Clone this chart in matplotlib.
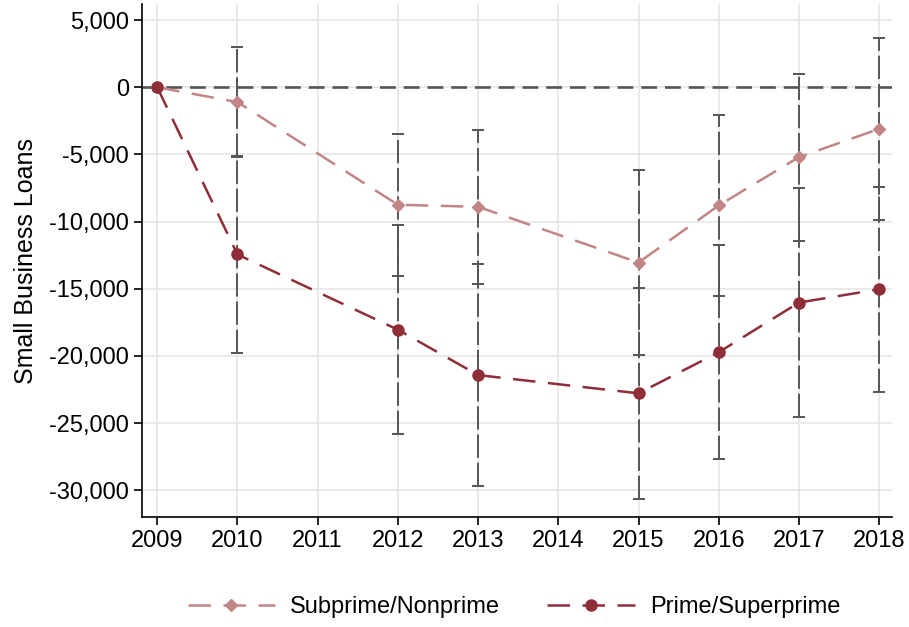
import matplotlib
matplotlib.use("Agg")
import matplotlib.pyplot as plt
from matplotlib.ticker import FuncFormatter

plt.rcParams['font.family'] = ['Liberation Sans', 'DejaVu Sans']

# data
years = [2009, 2010, 2012, 2013, 2015, 2016, 2017, 2018]
subprime = [0, -1100, -8750, -8900, -13050, -8800, -5200, -3100]
prime = [0, -12450, -18050, -21430, -22790, -19730, -16030, -15040]

# confidence bands (no bar for 2009)
ci_years = [2010, 2012, 2013, 2015, 2016, 2017, 2018]
sub_lo = [-5200, -14040, -14660, -19940, -15530, -11410, -9900]
sub_hi = [3000, -3450, -3150, -6180, -2080, 1020, 3700]
prime_lo = [-19750, -25840, -29660, -30650, -27700, -24580, -22670]
prime_hi = [-5100, -10270, -13190, -14930, -11750, -7490, -7420]

xticks = list(range(2009, 2019))
yticks = [5000, 0, -5000, -10000, -15000, -20000, -25000, -30000]

sub_color = '#c28585'
prime_color = '#8f2d38'
bar_color = '#555555'

fig = plt.figure(figsize=(9.09, 6.27), dpi=100)
ax = fig.add_axes([0.1562, 0.1754, 0.8251, 0.8182])

# two gray CI bars at each year, one per series
for lo, hi in [(sub_lo, sub_hi), (prime_lo, prime_hi)]:
    mid = [(a + b) / 2 for a, b in zip(lo, hi)]
    err = [[m - a for m, a in zip(mid, lo)], [b - m for m, b in zip(mid, hi)]]
    eb = ax.errorbar(ci_years, mid, yerr=err, fmt='none', ecolor=bar_color,
                     elinewidth=1.4, capsize=4, capthick=1.4, zorder=2)
    for lc in eb[2]:
        lc.set_linestyle((0, (12, 2.5)))

ax.axhline(0, color=bar_color, lw=1.9, dashes=(6, 3), zorder=2)

ax.plot(years, subprime, color=sub_color, lw=1.8, dashes=(9, 5),
        marker='D', ms=6.5, label='Subprime/Nonprime', zorder=3)
ax.plot(years, prime, color=prime_color, lw=1.8, dashes=(9, 5),
        marker='o', ms=8, label='Prime/Superprime', zorder=3)

ax.set_xlim(2008.81, 2018.16)
ax.set_ylim(-32000, 6200)
ax.set_xticks(xticks)
ax.set_yticks(yticks)
ax.yaxis.set_major_formatter(FuncFormatter(lambda v, p: f"{v:,.0f}"))
ax.tick_params(labelsize=17, length=6, width=1.2, colors='black')
ax.grid(True, color='#e6e6e6', lw=1.2, zorder=0)
ax.set_axisbelow(True)
for s in ['top', 'right']:
    ax.spines[s].set_visible(False)
for s in ['left', 'bottom']:
    ax.spines[s].set_linewidth(1.2)
ax.set_ylabel('Small Business Loans', fontsize=18, labelpad=8)

fig.legend(loc='center', bbox_to_anchor=(0.5655, 0.032), ncol=2, frameon=False,
           fontsize=17, handlelength=3.7, columnspacing=2.0, handletextpad=0.65)

fig.savefig('out.png', dpi=100)
